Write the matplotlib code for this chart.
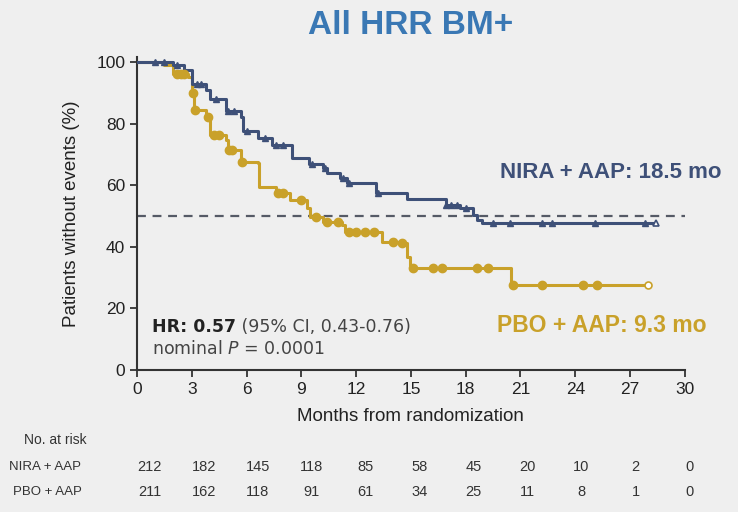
import numpy as np
import matplotlib
matplotlib.use("Agg")
from matplotlib import pyplot as plt
from matplotlib import transforms

# Kaplan-Meier steps: (month, % after the drop)
nira_t = [0, 2.0, 2.6, 3.0, 3.8, 4.0, 4.9, 5.7, 5.8, 6.6, 7.4, 8.5, 9.4, 10.2, 10.4,
          11.1, 11.5, 13.1, 14.8, 16.9, 17.7, 18.4, 18.6, 18.9]
nira_s = [100, 99, 97.5, 93, 91, 88, 84, 82, 77.5, 75.5, 73, 69, 67, 65.5, 64,
          62.3, 60.7, 57.5, 55.5, 53.6, 52.6, 50.3, 48.7, 47.7]
nira_end = 28.4
nira_cens = [1.0, 1.5, 2.2, 3.3, 3.5, 4.3, 5.0, 5.3, 6.0, 7.0, 7.6, 8.0, 9.6, 10.3,
             11.3, 11.6, 13.2, 16.9, 17.2, 17.5, 18.0, 19.5, 20.4, 22.2, 22.7, 25.1, 27.8]

pbo_t = [0, 1.5, 2.0, 2.8, 3.0, 3.1, 3.8, 4.0, 4.9, 5.0, 5.7, 6.6, 6.7, 7.6, 8.4,
         9.3, 9.5, 10.2, 11.2, 11.4, 13.4, 14.4, 14.8, 14.95, 20.5]
pbo_s = [100, 99, 96, 95, 90, 84.4, 82, 76.3, 74.7, 71.4, 67.5, 67.2, 59.4, 57.5, 55.2,
         52.6, 49.7, 48, 47, 44.8, 41.6, 41.2, 36.7, 33.1, 27.6]
pbo_end = 28.0
pbo_cens = [2.2, 2.4, 2.6, 3.05, 3.2, 3.9, 4.2, 4.5, 5.05, 5.2, 5.75, 7.7, 8.0, 9.0,
            9.8, 10.4, 11.0, 11.6, 12.0, 12.5, 13.0, 14.0, 14.5, 15.1, 16.2, 16.7,
            18.6, 19.2, 20.6, 22.2, 24.4, 25.2]

risk_months = [0, 3, 6, 9, 12, 15, 18, 21, 24, 27, 30]
nira_risk = [212, 182, 145, 118, 85, 58, 45, 20, 10, 2, 0]
pbo_risk = [211, 162, 118, 91, 61, 34, 25, 11, 8, 1, 0]

blue = "#3e5078"
gold = "#c9a12a"
bg = "#efefef"

plt.rcParams['font.family'] = ['Liberation Sans', 'DejaVu Sans']

fig = plt.figure(figsize=(7.38, 5.12), dpi=100)
fig.patch.set_facecolor(bg)
ax = fig.add_axes([0.1856, 0.2773, 0.7424, 0.6105])
ax.set_facecolor(bg)


def surv_at(t, times, surv):
    i = np.searchsorted(times, t, side="right") - 1
    return np.array(surv)[i]


def draw_curve(times, surv, end, cens, color, marker, msize):
    xs = list(times) + [end]
    ys = list(surv) + [surv[-1]]
    ax.step(xs, ys, where="post", color=color, lw=2.2, zorder=3)
    cy = surv_at(np.array(cens), times, surv)
    ax.plot(cens, cy, ls="none", marker=marker, color=color, ms=msize, zorder=4)
    ax.plot([end], [surv[-1]], ls="none", marker=marker, mfc="white", mec=color,
            ms=msize - 1, mew=1.2, zorder=4)


ax.axhline(50, color="#555a66", lw=1.6, ls=(0, (4, 3)), zorder=2)
draw_curve(pbo_t, pbo_s, pbo_end, pbo_cens, gold, "o", 6)
draw_curve(nira_t, nira_s, nira_end, nira_cens, blue, "^", 5)

ax.set_xlim(0, 30)
ax.set_ylim(0, 101.5)
ax.set_xticks(range(0, 31, 3))
ax.set_yticks(range(0, 101, 20))
for s in ["top", "right"]:
    ax.spines[s].set_visible(False)
for s in ["left", "bottom"]:
    ax.spines[s].set_color("#333333")
    ax.spines[s].set_linewidth(1.5)
ax.tick_params(direction="out", length=5, width=1.3, colors="#333333", labelsize=12.5,
               labelcolor="#222222")
ax.set_xlabel("Months from randomization", fontsize=13.5, color="#222222", labelpad=8)
ax.set_ylabel("Patients without events (%)", fontsize=13.5, color="#222222", labelpad=12)

fig.text(0.556, 0.95, "All HRR BM+", fontsize=24, fontweight="bold", color="#3a78b4",
         ha="center", va="center")

ax.text(0.662, 0.633, "NIRA + AAP: 18.5 mo", transform=ax.transAxes, fontsize=16,
        fontweight="bold", color=blue, va="center")
ax.text(0.657, 0.144, "PBO + AAP: 9.3 mo", transform=ax.transAxes, fontsize=16.5,
        fontweight="bold", color=gold, va="center")

hr = ax.text(0.8, 14, "HR: 0.57", fontsize=12.5, fontweight="bold",
             color="#222222", va="center", family="DejaVu Sans")
ax.annotate(" (95% CI, 0.43-0.76)", xy=(1, 0.5), xycoords=hr, fontsize=12.5,
            color="#444444", va="center", family="DejaVu Sans")
ax.text(0.8, 6.9, "nominal $\\it{P}$ = 0.0001", fontsize=12.5,
        color="#444444", va="center", family="DejaVu Sans")

# at-risk table
trans = transforms.blended_transform_factory(ax.transData, fig.transFigure)
fig.text(0.075, 0.14, "No. at risk", fontsize=10, color="#333333", ha="center",
         va="center")
fig.text(0.012, 0.088, "NIRA + AAP", fontsize=9.5, color="#333333", ha="left",
         va="center")
fig.text(0.018, 0.039, "PBO + AAP", fontsize=9.5, color="#333333", ha="left",
         va="center")
for i, m in enumerate(risk_months):
    xpos = 0.7 + m * 0.985
    ax.text(xpos, 0.088, str(nira_risk[i]), transform=trans, fontsize=10.5,
            color="#333333", ha="center", va="center")
    ax.text(xpos, 0.039, str(pbo_risk[i]), transform=trans, fontsize=10.5,
            color="#333333", ha="center", va="center")

fig.savefig("out.png", dpi=100, facecolor=bg)
